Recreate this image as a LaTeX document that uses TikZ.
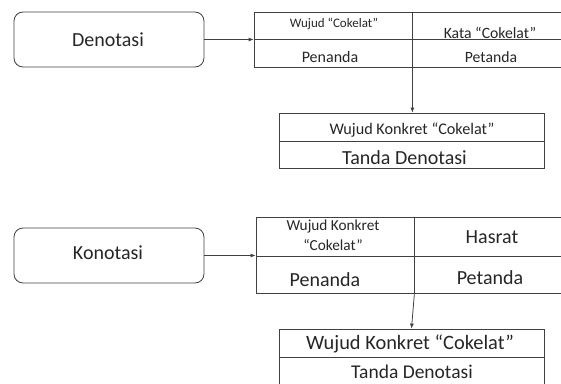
\documentclass[tikz,border=0pt]{standalone}
\usepackage{fontspec}
\setmainfont{Carlito}
\usetikzlibrary{arrows.meta}
\newcommand{\fs}[1]{\fontsize{#1}{#1}\selectfont}
\begin{document}
\begin{tikzpicture}[x=1pt,y=-1pt,
  lc/.style={draw=black!75,line width=0.8pt},
  rbox/.style={lc,rounded corners=9pt,minimum width=190pt,minimum height=55pt,inner sep=0pt},
  cell/.style={lc,inner sep=0pt},
  txt/.style={inner sep=0pt,text=black!85},
  arr/.style={lc,-{Latex[length=5pt,width=4pt]}}]
\useasboundingbox (0,0) rectangle (561,383);
\clip (0,0) rectangle (561,383);
% top part
\node[rbox] (d) at (109,39.5) {};
\node[txt] (dt) at (108,40) {\fs{20}Denotasi};
\node[cell,minimum width=158pt,minimum height=27pt] (t1a) at (333,25.5) {};
\node[cell,minimum width=156pt,minimum height=27pt] (t1c) at (490,25.5) {};
\node[cell,minimum width=158pt,minimum height=28pt] (t1b) at (333,53) {};
\node[cell,minimum width=156pt,minimum height=28pt] (t1d) at (490,53) {};
\node[txt] (w1) at (334,24) {\fs{13}Wujud “Cokelat”};
\node[txt] (k1) at (490,33) {\fs{15.7}Kata “Cokelat”};
\node[txt] (p1) at (330,57) {\fs{16}Penanda};
\node[txt] (q1) at (491,57) {\fs{15.7}Petanda};
\node[cell,minimum width=265pt,minimum height=28pt] (t2a) at (411.5,127) {};
\node[cell,minimum width=265pt,minimum height=27pt] (t2b) at (411.5,154.5) {};
\node[txt] (w2) at (412,130) {\fs{16.2}Wujud Konkret “Cokelat”};
\node[txt] (s2) at (404.5,158) {\fs{20}Tanda Denotasi};
\draw[arr] (d.east) -- (d.east -| t1a.west);
\draw[arr] (t1b.south east) -- (t1b.south east |- t2a.north);
% bottom part
\node[rbox] (k) at (109,255.5) {};
\node[txt] (kt) at (108,253) {\fs{20}Konotasi};
\node[cell,minimum width=158pt,minimum height=39pt] (t3a) at (335,236.5) {};
\node[cell,minimum width=154pt,minimum height=39pt] (t3c) at (491,236.5) {};
\node[cell,minimum width=158pt,minimum height=37pt] (t3b) at (335,274.5) {};
\node[cell,minimum width=154pt,minimum height=37pt] (t3d) at (491,274.5) {};
\node[txt,align=center,font={\fontsize{15.3}{20}\selectfont}] (w3) at (333,235) {Wujud Konkret\\ “Cokelat”};
\node[txt] (h3) at (492,237) {\fs{20}Hasrat};
\node[txt] (p3) at (325,280) {\fs{20}Penanda};
\node[txt] (q3) at (490,278) {\fs{20}Petanda};
\node[cell,minimum width=265pt,minimum height=28pt] (t4a) at (411.5,343) {};
\node[cell,minimum width=265pt,minimum height=30pt] (t4b) at (411.5,372) {};
\node[txt] (w4) at (410,344) {\fs{20.4}Wujud Konkret “Cokelat”};
\node[txt] (s4) at (412,372) {\fs{19.5}Tanda Denotasi};
\draw[arr] (k.east) -- (k.east -| t3a.south west);
\draw[arr] (t3b.south east) -- (t4a.north);
\end{tikzpicture}
\end{document}
